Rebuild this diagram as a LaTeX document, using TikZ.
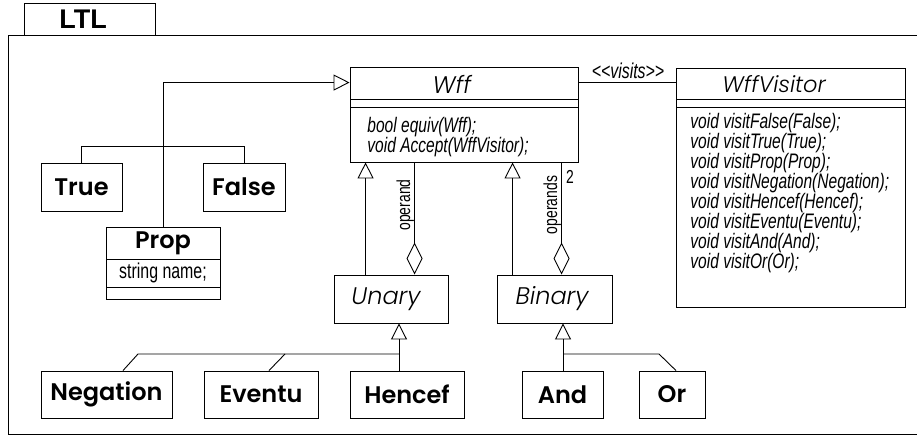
\documentclass[tikz,border=0pt]{standalone}
\usepackage{fontspec}
\usetikzlibrary{arrows.meta,calc}
\newfontfamily\namefont{Poppins SemiBold}
\newfontfamily\titlefont{Poppins Light Italic}
\newfontfamily\narrowfont{Liberation Sans}[FakeStretch=0.74,Ligatures=TeXOff]
\newfontfamily\tabfont{Liberation Sans}
\begin{document}
\begin{tikzpicture}[x=1pt,y=-1pt,line width=0.9pt,
  cls/.style n args={2}{draw,inner sep=0pt,minimum width=#1 pt,minimum height=#2 pt},
  bname/.style={font=\namefont\fontsize{24}{28}\selectfont},
  iname/.style={inner sep=0pt,font=\titlefont\fontsize{24}{28}\selectfont},
  op/.style={anchor=west,inner sep=0pt,font=\narrowfont\itshape\fontsize{21}{24}\selectfont},
  attr/.style={inner sep=0pt,font=\narrowfont\fontsize{21.5}{24}\selectfont},
  role/.style={inner sep=0pt,font=\narrowfont\fontsize{18.8}{22}\selectfont},
  inh/.style={-{Triangle[open,length=16pt,width=16pt]}},
  agg/.style={-{Diamond[open,length=32pt,width=16pt]}}]
\useasboundingbox (0,0) rectangle (917,435);

% package frame and its tab
\draw (917,35) -- (8,35) -- (8,434) -- (917,434);
\node[cls={131}{32}] (tab) at (89.5,19) {};
\node[inner sep=0pt,font=\tabfont\bfseries\fontsize{27}{32}\selectfont] (tabname) at (83,19) {LTL};

% abstract base class Wff
\node[cls={228}{95}] (wff) at (464,114.5) {};
\node[iname] (wfftitle) at (452,84) {Wff};
\draw (350,99) -- (578,99) (350,107) -- (578,107);
\node[op] (wffop1) at (367,127) {bool equiv(Wff);};
\node[op] (wffop2) at (367,147) {void Accept(WffVisitor);};

% visitor class
\node[cls={229}{239}] (visitor) at (790.5,187.5) {};
\node[iname,anchor=west,font=\titlefont\fontsize{22.5}{27}\selectfont] (vistitle) at (722,84) {WffVisitor};
\draw (676,99) -- (905,99) (676,107) -- (905,107);
\foreach \t [count=\i from 0] in {void visitFalse(False);,void visitTrue(True);,void visitProp(Prop);,void visitNegation(Negation);,void visitHencef(Hencef);,void visitEventu(Eventu);,void visitAnd(And);,void visitOr(Or);}
  \node[op] (visop\i) at (690,123+20*\i) {\t};

% leaf classes
\node[cls={81}{48},bname] (true) at (81.5,187) {True};
\node[cls={82}{48},bname] (false) at (244,187) {False};
\node[cls={114}{72}] (prop) at (163,263) {};
\node[bname,inner sep=0pt] (propname) at (163,243) {Prop};
\draw (106,259) -- (220,259) (106,287) -- (220,287);
\node[attr] (propattr) at (163,273) {string name;};

% abstract operator classes
\node[cls={114}{48}] (unary) at (391,299) {};
\node[iname] (unaryname) at (386,299) {Unary};
\node[cls={115}{48}] (binary) at (554.5,299) {};
\node[iname] (binaryname) at (552,299) {Binary};

\node[cls={131}{47},bname] (negation) at (106.5,394.5) {Negation};
\node[cls={114}{47},bname] (eventu) at (261,394.5) {Eventu};
\node[cls={114}{47},bname] (hencef) at (407,394.5) {Hencef};
\node[cls={81}{47},bname] (and) at (562.5,394.5) {And};
\node[cls={66}{47},bname] (or) at (672,394.5) {Or};

% association Wff -- WffVisitor
\coordinate (wffR) at ($(wff.north east)+(0,16)$);
\draw (wffR) -- (wffR -| visitor.west);
\node[inner sep=0pt,font=\narrowfont\itshape\fontsize{21.5}{24}\selectfont] (visits) at (628,71) {<<visits>>};

% generalisations into Wff
\coordinate (wffL) at ($(wff.north west)+(0,16)$);
\draw[inh] (prop.north) |- (wffL);
\draw (true.north) -- ++(0,-16) -| (false.north);
\draw[inh] ($(unary.north west)+(32,0)$) -- ($(wff.south west)+(16,0)$);
\draw[inh] ($(binary.north west)+(16,0)$) -- ($(wff.south west)+(163,0)$);

% aggregations with their role names
\draw[agg] ($(wff.south west)+(65,0)$) -- ($(unary.north west)+(81,0)$);
\draw[agg] ($(wff.south west)+(212,0)$) -- ($(binary.north west)+(65,0)$);
\node[role,rotate=90,anchor=south] (operand) at (414.5,205) {operand};
\node[role,rotate=90,anchor=south] (operands) at (561.5,205) {operands};
\node[role] (mult) at (570,177) {2};

% subclasses of Unary
\coordinate (ujoin) at (399,354);
\draw[inh] (ujoin) -- (ujoin |- unary.south);
\draw (ujoin) -- (ujoin |- hencef.north);
\draw (ujoin) -- (138,354) -- (negation.north -| 123,0);
\draw (285,354) -- (eventu.north -| 269,0);

% subclasses of Binary
\coordinate (bjoin) at (563,354);
\draw[inh] (bjoin) -- (bjoin |- binary.south);
\draw (bjoin) -- (bjoin |- and.north);
\draw (bjoin) -- (659,354) -- (or.north -| 676,0);
\end{tikzpicture}
\end{document}
